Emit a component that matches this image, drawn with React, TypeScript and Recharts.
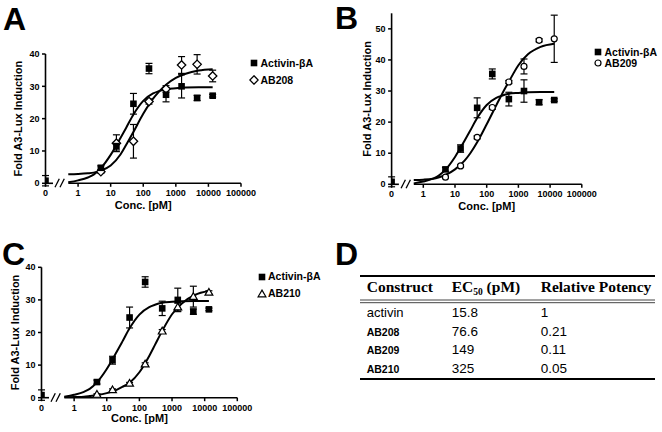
import React from 'react';
import {
  ComposedChart,
  Scatter,
  Line,
  XAxis,
  YAxis,
  ErrorBar,
  ReferenceLine,
  Legend,
} from 'recharts';

// ---------- data ----------
const CONC = [0, 5, 15, 50, 150, 500, 1500, 4500, 13500];
const ACTIVIN_Y = [0.8, 4.8, 11.5, 24.6, 35.5, 27.4, 30.0, 26.4, 27.1];
const ACTIVIN_ERR = [1.6, 0.6, 1.2, 3.2, 1.6, 2.2, 3.6, 0.8, 0.4];

const DOSE = [5, 15, 50, 150, 500, 1500, 4500, 13500];
const AB208_Y = [3.6, 12.4, 13.0, 25.3, 29.2, 36.6, 36.8, 33.2];
const AB208_ERR = [0.5, 2.6, 5.2, 0.8, 1.0, 2.6, 3.0, 1.8];
const AB209_Y = [2.3, 5.9, 15.1, 24.7, 32.9, 37.9, 46.3, 46.8];
const AB209_ERR = [0.3, 0.4, 0.5, 0.6, 0.5, 2.4, 0.5, 7.6];
const AB210_Y = [1.0, 2.4, 4.4, 10.3, 20.4, 27.8, 31.0, 32.3];
const AB210_ERR = [0.2, 0.3, 0.3, 0.4, 0.5, 1.2, 3.2, 0.5];

// fitted curves at these concentrations
const CURVE_CONC = [0.5, 1, 2, 3, 5, 10, 20, 30, 50, 100, 200, 300, 500, 1000, 2000, 5000, 13500];
const ACTIVIN_FIT = [0.3, 0.9, 1.8, 2.7, 4.7, 8.8, 14.0, 17.2, 21.3, 25.5, 27.8, 28.5, 29.1, 29.4, 29.6, 29.7, 29.7];
const AB208_FIT = [2.8, 2.9, 3.1, 3.3, 3.9, 5.5, 8.9, 11.9, 15.9, 21.5, 26.2, 28.3, 30.5, 32.6, 33.9, 34.9, 35.3];
const AB209_FIT = [1.4, 1.5, 1.8, 2.2, 3.0, 4.8, 7.6, 9.9, 13.5, 19.3, 25.4, 28.9, 33.0, 38.3, 41.8, 44.2, 45.2];
const AB210_FIT = [0.1, 0.2, 0.3, 0.5, 0.8, 1.4, 2.4, 3.3, 4.6, 7.8, 12.8, 16.2, 20.5, 25.6, 28.9, 31.5, 32.7];

const X_TICKS = [0, 1, 10, 100, 1000, 10000, 100000];

const TABLE_HEAD = ['Construct', 'EC', '50', ' (pM)', 'Relative Potency'];
const CONSTRUCTS = ['activin', 'AB208', 'AB209', 'AB210'];
const EC50 = ['15.8', '76.6', '149', '325'];
const POTENCY = ['1', '0.21', '0.11', '0.05'];

// ---------- styling ----------
const FONT = "'Liberation Sans', Arial, Helvetica, sans-serif";
const SERIF = "'Liberation Serif', 'Times New Roman', serif";
const ZERO_AT = -1; // where "0" sits on the log axis (axis break)
const BREAK_FROM = -0.77;
const BREAK_TO = -0.3;
const TICK_SIZE = 3.5;
const TICK_MARGIN = 3;

const toAxis = (c: number) => (c === 0 ? ZERO_AT : Math.log10(c));

type MarkerType = 'square' | 'diamond' | 'circle' | 'triangle';

function MarkerGlyph({ type, cx, cy }: { type: MarkerType; cx: number; cy: number }) {
  if (type === 'square') {
    return <rect x={cx - 3.3} y={cy - 3.3} width={6.6} height={6.6} fill="#000" />;
  }
  if (type === 'diamond') {
    return (
      <polygon
        points={`${cx},${cy - 4.2} ${cx + 4.2},${cy} ${cx},${cy + 4.2} ${cx - 4.2},${cy}`}
        fill="#fff"
        stroke="#000"
        strokeWidth={1.3}
      />
    );
  }
  if (type === 'circle') {
    return <circle cx={cx} cy={cy} r={3} fill="#fff" stroke="#000" strokeWidth={1.2} />;
  }
  return (
    <polygon
      points={`${cx},${cy - 3.9} ${cx + 3.9},${cy + 2.8} ${cx - 3.9},${cy + 2.8}`}
      fill="#fff"
      stroke="#000"
      strokeWidth={1.2}
    />
  );
}

function XTick(props: any) {
  const { x, y, payload } = props;
  const idx = X_TICKS.findIndex((c) => Math.abs(toAxis(c) - payload.value) < 1e-6);
  const label = idx >= 0 ? String(X_TICKS[idx]) : '';
  const axisY = y - TICK_SIZE - TICK_MARGIN;
  return (
    <g>
      <text x={x} y={y} dy="0.71em" textAnchor="middle" fontSize={9} fontWeight={700} fill="#000" fontFamily={FONT}>
        {label}
      </text>
      {idx === 0 && (
        <g stroke="#000" strokeWidth={1.3}>
          <line x1={x + 9.5} y1={axisY + 4} x2={x + 13.8} y2={axisY - 4.5} />
          <line x1={x + 14.5} y1={axisY + 4} x2={x + 18.8} y2={axisY - 4.5} />
        </g>
      )}
    </g>
  );
}

const PANELS = [
  {
    key: 'A',
    left: 0, top: 0, width: 330, height: 215,
    margin: { top: 54, right: 89, bottom: 1.7, left: 15.5 },
    yMax: 40, yTicks: [0, 10, 20, 30, 40],
    name: 'AB208', marker: 'diamond' as MarkerType,
    values: AB208_Y, errs: AB208_ERR, fit: AB208_FIT,
    yLabelOffset: 2.8, xLabelOffset: 4.8,
    legend: { left: 249, top: 55, row: 16.7 },
  },
  {
    key: 'B',
    left: 330, top: 0, width: 332, height: 215,
    margin: { top: 13.3, right: 80.2, bottom: 0.7, left: 31.6 },
    yMax: 55, yTicks: [0, 10, 20, 30, 40, 50],
    name: 'AB209', marker: 'circle' as MarkerType,
    values: AB209_Y, errs: AB209_ERR, fit: AB209_FIT,
    yLabelOffset: 5.1, xLabelOffset: 4.3,
    legend: { left: 263, top: 46.5, row: 11 },
  },
  {
    key: 'C',
    left: 0, top: 215, width: 330, height: 217,
    margin: { top: 52.3, right: 92.7, bottom: 4.3, left: 11.5 },
    yMax: 40, yTicks: [0, 10, 20, 30, 40],
    name: 'AB210', marker: 'triangle' as MarkerType,
    values: AB210_Y, errs: AB210_ERR, fit: AB210_FIT,
    yLabelOffset: 3.5, xLabelOffset: 5.3,
    legend: { left: 256.5, top: 53.2, row: 17 },
  },
];

const MARKER_OF: Record<string, MarkerType> = {
  'Activin-βA': 'square',
  AB208: 'diamond',
  AB209: 'circle',
  AB210: 'triangle',
};

function makeLegend(row: number) {
  return (props: any) => {
    const items = [...(props.payload || [])]
      .filter((p: any) => p.type !== 'none')
      .sort((a: any, b: any) => (a.value === 'Activin-βA' ? -1 : b.value === 'Activin-βA' ? 1 : 0));
    return (
      <div style={{ fontFamily: FONT, fontWeight: 700, fontSize: 10.5, color: '#000' }}>
        {items.map((it: any) => (
          <div key={it.value} style={{ display: 'flex', alignItems: 'center', height: row, whiteSpace: 'nowrap' }}>
            <svg width={10} height={10} style={{ display: 'block' }}>
              <MarkerGlyph type={MARKER_OF[it.value] || 'square'} cx={5} cy={5} />
            </svg>
            <span style={{ marginLeft: 1.5, lineHeight: `${row}px` }}>{it.value}</span>
          </div>
        ))}
      </div>
    );
  };
}

function DosePanel({ cfg }: { cfg: (typeof PANELS)[number] }) {
  const activinRows = CONC.map((c, i) => ({ conc: c, y: ACTIVIN_Y[i], err: ACTIVIN_ERR[i] }));
  const compRows = DOSE.map((c, i) => ({ conc: c, y: cfg.values[i], err: cfg.errs[i] }));
  const activinFit = CURVE_CONC.map((c, i) => ({ conc: c, y: ACTIVIN_FIT[i] }));
  const compFit = CURVE_CONC.map((c, i) => ({ conc: c, y: cfg.fit[i] }));
  const axisStroke = { stroke: '#000', strokeWidth: 1.6 };
  return (
    <div style={{ position: 'absolute', left: cfg.left, top: cfg.top }}>
      <ComposedChart width={cfg.width} height={cfg.height} margin={cfg.margin}>
        <XAxis
          type="number"
          dataKey={(d: any) => toAxis(d.conc)}
          domain={[ZERO_AT, 5]}
          ticks={X_TICKS.map(toAxis)}
          interval={0}
          allowDataOverflow
          axisLine={false}
          tickLine={{ stroke: '#000', strokeWidth: 1.5 }}
          tickSize={TICK_SIZE}
          tickMargin={TICK_MARGIN}
          tick={(p: any) => <XTick {...p} />}
          height={30}
          label={{
            value: 'Conc. [pM]',
            position: 'insideBottom',
            offset: cfg.xLabelOffset,
            style: { fontSize: 11, fontWeight: 700, fill: '#000', fontFamily: FONT },
          }}
        />
        <YAxis
          type="number"
          dataKey="y"
          domain={[0, cfg.yMax]}
          ticks={cfg.yTicks}
          interval={0}
          allowDataOverflow
          width={30}
          axisLine={axisStroke}
          tickLine={{ stroke: '#000', strokeWidth: 1.5 }}
          tickSize={TICK_SIZE}
          tickMargin={2.5}
          tick={{ fill: '#000', fontSize: 9, fontWeight: 700, fontFamily: FONT }}
          label={{
            value: 'Fold A3-Lux Induction',
            angle: -90,
            position: 'insideLeft',
            offset: cfg.yLabelOffset,
            style: { textAnchor: 'middle', fontSize: 11, fontWeight: 700, fill: '#000', fontFamily: FONT },
          }}
        />
        <ReferenceLine
          segment={[{ x: ZERO_AT, y: 0 }, { x: BREAK_FROM, y: 0 }]}
          stroke="#000"
          strokeWidth={1.6}
          ifOverflow="visible"
        />
        <ReferenceLine
          segment={[{ x: BREAK_TO, y: 0 }, { x: 5, y: 0 }]}
          stroke="#000"
          strokeWidth={1.6}
          ifOverflow="visible"
        />
        <Line
          data={compFit}
          dataKey="y"
          type="monotone"
          stroke="#000"
          strokeWidth={2}
          dot={false}
          activeDot={false}
          legendType="none"
          isAnimationActive={false}
        />
        <Line
          data={activinFit}
          dataKey="y"
          type="monotone"
          stroke="#000"
          strokeWidth={2}
          dot={false}
          activeDot={false}
          legendType="none"
          isAnimationActive={false}
        />
        <Scatter
          name={cfg.name}
          data={compRows}
          dataKey="y"
          legendType={cfg.marker}
          fill="#fff"
          shape={(p: any) => <MarkerGlyph type={cfg.marker} cx={p.cx} cy={p.cy} />}
          isAnimationActive={false}
        >
          <ErrorBar dataKey="err" direction="y" width={3.5} stroke="#000" strokeWidth={1.2} />
        </Scatter>
        <Scatter
          name="Activin-βA"
          data={activinRows}
          dataKey="y"
          legendType="square"
          fill="#000"
          shape={(p: any) => <MarkerGlyph type="square" cx={p.cx} cy={p.cy} />}
          isAnimationActive={false}
        >
          <ErrorBar dataKey="err" direction="y" width={3.5} stroke="#000" strokeWidth={1.2} />
        </Scatter>
        <Legend
          layout="vertical"
          align="center"
          verticalAlign="middle"
          wrapperStyle={{ left: cfg.legend.left, top: cfg.legend.top, width: 'auto', height: 'auto' }}
          content={makeLegend(cfg.legend.row)}
        />
      </ComposedChart>
    </div>
  );
}

function Overlay() {
  const rowY = [316.5, 335.5, 354, 372.5];
  return (
    <svg
      width={662}
      height={432}
      style={{ position: 'absolute', left: 0, top: 0, pointerEvents: 'none' }}
    >
      <g fontFamily={FONT} fontWeight={700} fontSize={32} fill="#000">
        <text x={3} y={30}>A</text>
        <text x={335} y={28.5}>B</text>
        <text x={2} y={264.5}>C</text>
        <text x={335} y={265}>D</text>
      </g>
      <line x1={360} x2={655} y1={276} y2={276} stroke="#000" strokeWidth={2} />
      <g fontFamily={SERIF} fontWeight={700} fontSize={15.5} fill="#000">
        <text x={366.7} y={292.3}>{TABLE_HEAD[0]}</text>
        <text x={451.7} y={292.3}>
          {TABLE_HEAD[1]}
          <tspan fontSize={9.5} dy={2.5}>{TABLE_HEAD[2]}</tspan>
          <tspan dy={-2.5}>{TABLE_HEAD[3]}</tspan>
        </text>
        <text x={540.7} y={292.3}>{TABLE_HEAD[4]}</text>
      </g>
      <line x1={360} x2={655} y1={300} y2={300} stroke="#444" strokeWidth={1} />
      <line x1={360} x2={655} y1={302.7} y2={302.7} stroke="#444" strokeWidth={1} />
      <g fontFamily={FONT} fill="#000">
        {CONSTRUCTS.map((c, i) => (
          <text
            key={c}
            x={366.7}
            y={rowY[i]}
            fontSize={i === 0 ? 13 : 10.5}
            fontWeight={i === 0 ? 400 : 700}
          >
            {c}
          </text>
        ))}
        {EC50.map((v, i) => (
          <text key={'e' + i} x={451.7} y={rowY[i]} fontSize={13.5}>
            {v}
          </text>
        ))}
        {POTENCY.map((v, i) => (
          <text key={'p' + i} x={540.7} y={rowY[i]} fontSize={13.5}>
            {v}
          </text>
        ))}
      </g>
      <line x1={360} x2={655} y1={379} y2={379} stroke="#000" strokeWidth={2} />
    </svg>
  );
}

export default function App() {
  return (
    <div
      style={{
        position: 'absolute',
        left: 0,
        top: 0,
        width: 662,
        height: 432,
        background: '#fff',
        fontFamily: FONT,
        overflow: 'hidden',
      }}
    >
      {PANELS.map((p) => (
        <DosePanel key={p.key} cfg={p} />
      ))}
      <Overlay />
    </div>
  );
}
